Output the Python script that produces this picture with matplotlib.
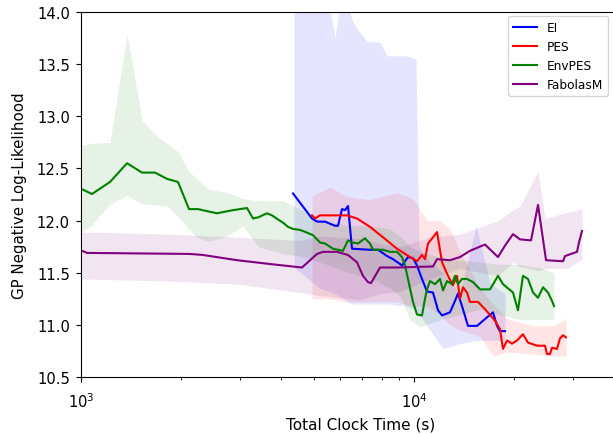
import numpy as np
import matplotlib
matplotlib.use("Agg")
import matplotlib.pyplot as plt

# EI
ei_t = [4332, 4940, 5114, 5404, 5791, 5912, 6078, 6206, 6336, 6513, 7379, 7797, 8297, 8648,
        9204, 9594, 9931, 10209, 10568, 10940, 11405, 11807, 12137, 12823, 13277, 13556, 13936,
        14527, 15463, 16118, 17266, 17752, 18113, 18762]
ei_nll = [12.26, 12.02, 11.99, 11.99, 11.95, 11.95, 12.11, 12.10, 12.14, 11.73, 11.72, 11.72, 11.66, 11.63,
          11.57, 11.65, 11.64, 11.57, 11.44, 11.32, 11.31, 11.14, 11.09, 11.12, 11.23, 11.30, 11.18,
          10.99, 10.99, 11.04, 11.12, 10.99, 10.94, 10.94]
ei_band_t = [4362, 5222, 5791, 6120, 6513, 6743, 7225, 7907, 8297, 9528, 10139, 10351, 11169, 12221,
             13740, 15357, 16911, 18762]
ei_hi = [14.6, 14.6, 13.75, 14.3, 13.92, 13.84, 13.72, 13.71, 13.58, 13.58, 13.55, 11.75, 11.6, 11.5,
         11.3, 11.95, 11.4, 11.3]
ei_lo = [11.55, 11.35, 11.3, 11.25, 11.2, 11.2, 11.2, 11.2, 11.2, 11.18, 11.15, 11.1, 10.95, 10.77,
         10.82, 10.85, 10.85, 10.85]

# PES
pes_t = [4940, 5044, 5222, 6292, 6743, 7376, 8070, 8892, 9727, 10209, 10568, 10790, 11016, 11405,
         11726, 12137, 12650, 13095, 13462, 13740, 14033, 14427, 14723, 15570, 16339, 17508, 18113,
         18505, 19022, 19692, 20384, 21246, 21993, 23412, 24741, 25086, 25608, 25968, 26877, 27440,
         28025, 28612]
pes_nll = [12.05, 12.02, 12.05, 12.05, 12.02, 11.94, 11.84, 11.73, 11.65, 11.61, 11.67, 11.63, 11.78, 11.84,
           11.89, 11.60, 11.47, 11.38, 11.47, 11.25, 11.36, 11.31, 11.22, 11.22, 11.15, 11.04, 10.96,
           10.77, 10.85, 10.82, 10.85, 10.91, 10.83, 10.80, 10.80, 10.72, 10.72, 10.78, 10.77, 10.87,
           10.90, 10.88]
pes_band_t = [4940, 5598, 6292, 7376, 8892, 9931, 10940, 11970, 12823, 13740, 15776, 17266, 19022,
              22773, 26150, 28612]
pes_hi = [12.24, 12.32, 12.23, 12.2, 12.27, 12.21, 12.0, 12.0, 11.92, 11.7, 11.35, 11.2, 11.06,
          10.99, 10.99, 11.06]
pes_lo = [11.25, 11.25, 11.22, 11.22, 11.22, 11.18, 11.18, 11.1, 11.0, 10.95, 10.89, 10.70, 10.74,
          10.72, 10.70, 10.70]

# EnvPES
env_t = [1007, 1079, 1222, 1375, 1525, 1668, 1813, 1956, 2110, 2246, 2390, 2561, 2861, 3152, 3285,
         3400, 3619, 3746, 3905, 4043, 4184, 4332, 4547, 4642, 4974, 5222, 5404, 5711, 6120, 6336,
         6513, 6789, 7126, 7376, 7531, 8070, 8472, 8892, 9204, 9397, 9594, 9931, 10209, 10568, 10790,
         10940, 11169, 11564, 11970, 12221, 12563, 13005, 13277, 13556, 13936, 14427, 15038, 15785,
         16911, 17877, 18505, 19828, 20525, 21246, 21993, 22773, 23574, 24402, 25260, 25968, 26330]
env_nll = [12.30, 12.255, 12.37, 12.55, 12.46, 12.46, 12.40, 12.37, 12.11, 12.11, 12.09, 12.07, 12.10,
           12.12, 12.02, 12.03, 12.07, 12.05, 12.01, 11.98, 11.94, 11.92, 11.91, 11.90, 11.86, 11.79,
           11.78, 11.73, 11.71, 11.81, 11.79, 11.78, 11.83, 11.78, 11.72, 11.72, 11.70, 11.70, 11.65,
           11.57, 11.44, 11.22, 11.10, 11.09, 11.25, 11.34, 11.42, 11.39, 11.44, 11.33, 11.42, 11.39,
           11.47, 11.39, 11.44, 11.44, 11.41, 11.34, 11.34, 11.47, 11.39, 11.31, 11.14, 11.47, 11.44,
           11.31, 11.26, 11.36, 11.31, 11.23, 11.18]
env_band_t = [1007, 1064, 1222, 1375, 1525, 1691, 1813, 1956, 2110, 2230, 2406, 2744, 3065, 3400,
              4043, 4547, 5222, 6427, 7379, 8472, 9078, 9727, 10423, 11970, 13740, 15776, 18113,
              20797, 23878, 26330]
env_hi = [12.72, 12.74, 12.75, 13.79, 12.96, 12.81, 12.74, 12.66, 12.47, 12.40, 12.30, 12.27, 12.21,
          12.19, 12.19, 12.11, 12.0, 11.95, 11.95, 11.92, 11.85, 11.75, 11.70, 11.65, 11.62, 11.60,
          11.58, 11.58, 11.55, 11.50]
env_lo = [11.90, 11.94, 12.16, 12.24, 12.16, 12.15, 12.14, 12.04, 11.92, 11.84, 11.80, 11.85, 11.95,
          11.75, 11.68, 11.66, 11.60, 11.50, 11.45, 11.35, 11.28, 11.05, 10.98, 11.05, 11.10, 11.15,
          11.10, 11.05, 11.05, 11.05]

# FabolasM
fab_t = [1007, 1042, 2125, 2325, 2942, 3772, 4610, 5114, 5330, 5872, 6336, 6743, 7027, 7275, 7427,
         7907, 8892, 11405, 11726, 12823, 13740, 14723, 16339, 17877, 18762, 19828, 20797, 22460,
         23574, 24915, 28025, 28415, 30865, 31295, 31952]
fab_nll = [11.71, 11.69, 11.68, 11.67, 11.62, 11.58, 11.55, 11.68, 11.70, 11.70, 11.67, 11.60, 11.47,
           11.41, 11.40, 11.55, 11.55, 11.56, 11.63, 11.62, 11.65, 11.71, 11.77, 11.65, 11.76, 11.87,
           11.82, 11.81, 12.15, 11.62, 11.61, 11.66, 11.70, 11.79, 11.90]
fab_band_t = [1007, 1851, 2942, 4547, 5222, 6887, 7907, 9078, 11169, 13740, 17877, 19828, 20797,
              23574, 24743, 28809, 31952]
fab_hi = [11.89, 11.87, 11.84, 11.81, 11.85, 11.83, 11.78, 11.75, 11.84, 11.87, 12.0, 12.1, 12.14,
          12.47, 12.02, 12.08, 12.11]
fab_lo = [11.44, 11.42, 11.39, 11.31, 11.28, 11.24, 11.30, 11.32, 11.44, 11.54, 11.47, 11.60, 11.56,
          11.52, 11.54, 11.54, 11.63]

fig = plt.figure(figsize=(6.13, 4.35), dpi=100)
# axes run past the right edge of the picture (cropped original)
ax = fig.add_axes([81/613, 57/435, 560/613, 365/435])

ax.fill_between(ei_band_t, ei_lo, ei_hi, color='blue', alpha=0.1, lw=0)
ax.fill_between(pes_band_t, pes_lo, pes_hi, color='red', alpha=0.1, lw=0)
ax.fill_between(env_band_t, env_lo, env_hi, color='green', alpha=0.1, lw=0)
ax.fill_between(fab_band_t, fab_lo, fab_hi, color='purple', alpha=0.1, lw=0)

ax.plot(ei_t, ei_nll, color='blue', lw=1.5, label='EI')
ax.plot(pes_t, pes_nll, color='red', lw=1.5, label='PES')
ax.plot(env_t, env_nll, color='green', lw=1.5, label='EnvPES')
ax.plot(fab_t, fab_nll, color='purple', lw=1.5, label='FabolasM')

ax.set_xscale('log')
ax.set_xlim(1000, 10 ** (3 + 560 / 333))
ax.set_ylim(10.5, 14.0)
ax.set_yticks(np.arange(10.5, 14.01, 0.5))
ax.set_yticklabels(['%.1f' % v for v in np.arange(10.5, 14.01, 0.5)])
ax.tick_params(labelsize=10.6)
ax.tick_params(axis='x', which='major', pad=6.5)
ax.tick_params(axis='y', pad=4.5)
ax.spines['right'].set_visible(False)

ax.set_xlabel('Total Clock Time (s)', fontsize=11, labelpad=5)
ax.set_ylabel('GP Negative Log-Likelihood', fontsize=10.8, labelpad=7)

ax.legend(loc='upper right', bbox_to_anchor=(608/613, 1 - 17/435),
          bbox_transform=fig.transFigure, borderaxespad=0, fontsize=8.7)

fig.savefig('out.png', dpi=100)
